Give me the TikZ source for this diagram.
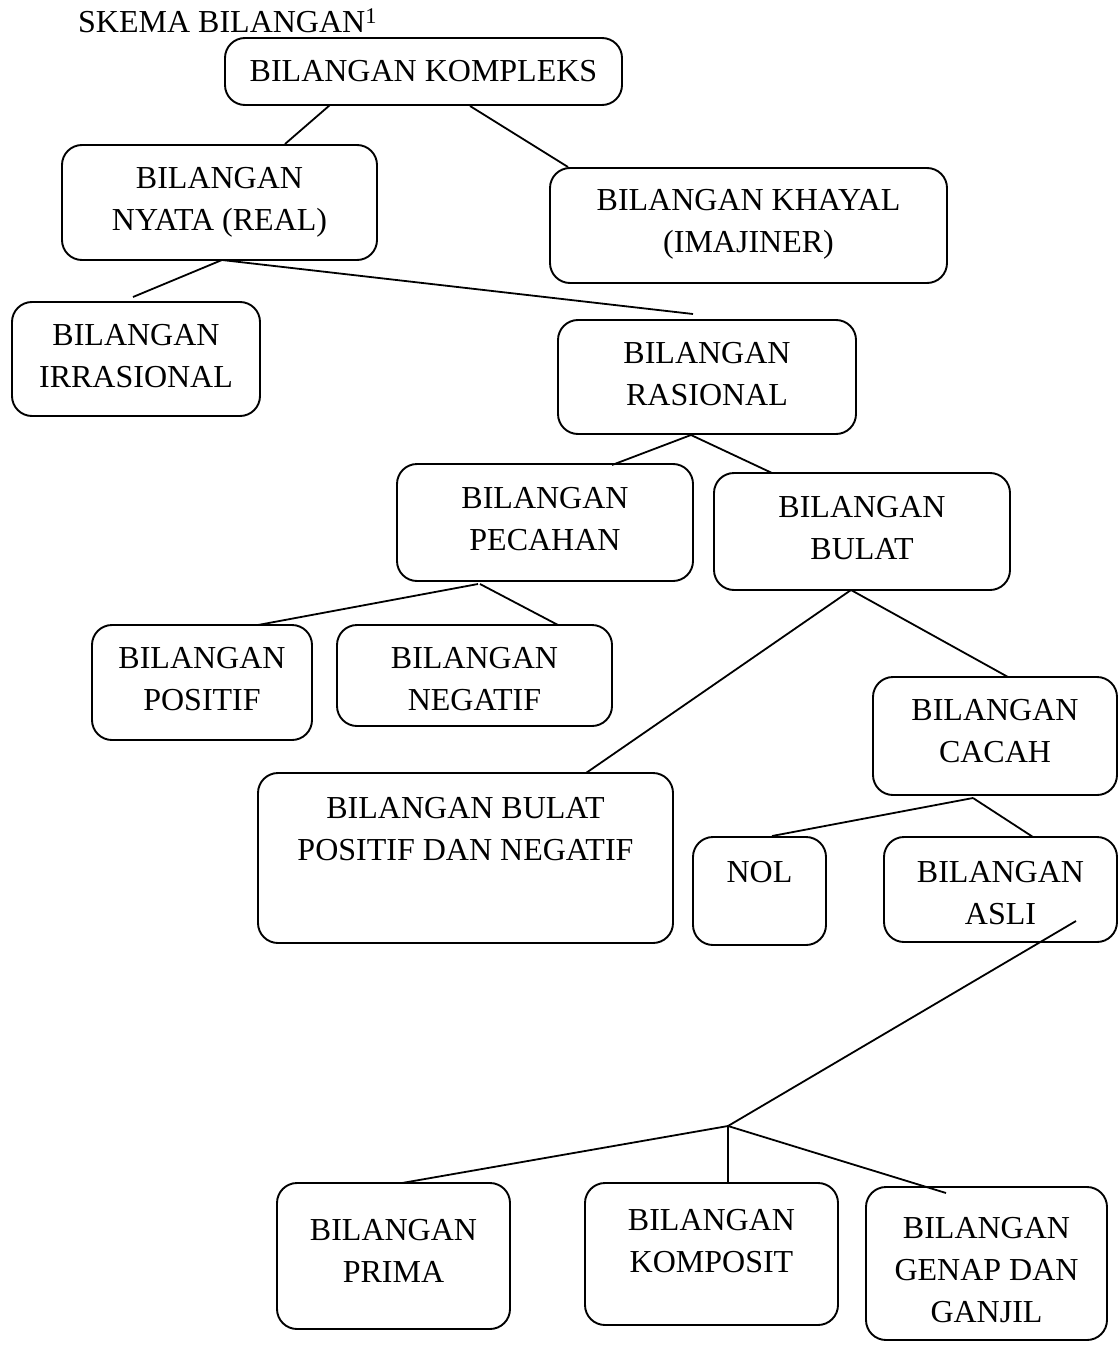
\documentclass[tikz,border=0pt]{standalone}
\usepackage{fontspec}
\setmainfont{Liberation Serif}
\newcommand\mybox[5]{\node[box, minimum width={(#4-#2)*1pt}, minimum height={(#5-#3)*1pt}] (#1) at ({(#2+#4)/2},{(#3+#5)/2}) {};}
\begin{document}
\begin{tikzpicture}[x=1pt,y=-1pt,
  box/.style={draw, line width=1.9pt, rounded corners=20pt, inner sep=0pt, outer sep=0pt},
  txt/.style={anchor=north, align=center, inner sep=0pt, font=\fontsize{32}{42}\selectfont},
  link/.style={line width=1.8pt}]
\useasboundingbox (0,0) rectangle (1119,1359);

\node[anchor=base west, inner sep=0pt, font=\fontsize{32}{42}\selectfont] (title) at (78,33) {SKEMA BILANGAN\textsuperscript{1}};

\mybox{kompleks}{225}{38}{622}{105}
\mybox{nyata}{62}{145}{377}{260}
\mybox{khayal}{550}{168}{947}{283}
\mybox{irr}{12}{302}{260}{416}
\mybox{ras}{558}{320}{856}{434}
\mybox{pecahan}{397}{464}{693}{581}
\mybox{bulat}{714}{473}{1010}{590}
\mybox{positif}{92}{625}{312}{740}
\mybox{negatif}{337}{625}{612}{726}
\mybox{cacah}{873}{677}{1117}{795}
\mybox{bpn}{258}{773}{673}{943}
\mybox{nol}{693}{837}{826}{945}
\mybox{asli}{884}{837}{1117}{942}
\mybox{prima}{277}{1183}{510}{1329}
\mybox{komposit}{585}{1183}{838}{1325}
\mybox{genap}{866}{1187}{1107}{1340}

\node[txt] (kompleks-t) at (423.5,60) {BILANGAN KOMPLEKS};
\node[txt] (nyata-t) at (219.5,167) {BILANGAN\\NYATA (REAL)};
\node[txt] (khayal-t) at (748.5,189) {BILANGAN KHAYAL\\(IMAJINER)};
\node[txt] (irr-t) at (136,324) {BILANGAN\\IRRASIONAL};
\node[txt] (ras-t) at (707,342) {BILANGAN\\RASIONAL};
\node[txt] (pecahan-t) at (545,487) {BILANGAN\\PECAHAN};
\node[txt] (bulat-t) at (862,496) {BILANGAN\\BULAT};
\node[txt] (positif-t) at (202,647) {BILANGAN\\POSITIF};
\node[txt] (negatif-t) at (474.5,647) {BILANGAN\\NEGATIF};
\node[txt] (cacah-t) at (995,699) {BILANGAN\\CACAH};
\node[txt] (bpn-t) at (465.5,797) {BILANGAN BULAT\\POSITIF DAN NEGATIF};
\node[txt] (nol-t) at (759.5,861) {NOL};
\node[txt] (asli-t) at (1000.5,861) {BILANGAN\\ASLI};
\node[txt] (prima-t) at (393.5,1219) {BILANGAN\\PRIMA};
\node[txt] (komposit-t) at (711.5,1209) {BILANGAN\\KOMPOSIT};
\node[txt] (genap-t) at (986.5,1217) {BILANGAN\\GENAP DAN\\GANJIL};

% connector end points
\coordinate (c1a) at (330,105);  \coordinate (c1b) at (285,144);
\coordinate (c2a) at (470,106);  \coordinate (c2b) at (568,167);
\coordinate (c3a) at (222,260);  \coordinate (c3b) at (133,297);
\coordinate (c4b) at (693,314);
\coordinate (c5a) at (691,435);  \coordinate (c5b) at (612,465);
\coordinate (c6b) at (772,473);
\coordinate (c7a) at (478,584);  \coordinate (c7b) at (258,625);
\coordinate (c8a) at (480,584);  \coordinate (c8b) at (558,625);
\coordinate (c9a) at (851,590);  \coordinate (c9b) at (586,773);
\coordinate (c10b) at (1008,677);
\coordinate (c11a) at (973,798); \coordinate (c11b) at (772,836);
\coordinate (c12b) at (1033,837);
\coordinate (c13a) at (1076,921);
\coordinate (junc) at (728,1126);
\coordinate (c14b) at (402,1183);
\coordinate (c15b) at (728,1183);
\coordinate (c16b) at (946,1193);

\draw[link] (c1a) -- (c1b);
\draw[link] (c2a) -- (c2b);
\draw[link] (c3a) -- (c3b);
\draw[link] (c3a) -- (c4b);
\draw[link] (c5a) -- (c5b);
\draw[link] (c5a) -- (c6b);
\draw[link] (c7a) -- (c7b);
\draw[link] (c8a) -- (c8b);
\draw[link] (c9a) -- (c9b);
\draw[link] (c9a) -- (c10b);
\draw[link] (c11a) -- (c11b);
\draw[link] (c11a) -- (c12b);
\draw[link] (c13a) -- (junc);
\draw[link] (junc) -- (c14b);
\draw[link] (junc) -- (c15b);
\draw[link] (junc) -- (c16b);
\end{tikzpicture}
\end{document}
